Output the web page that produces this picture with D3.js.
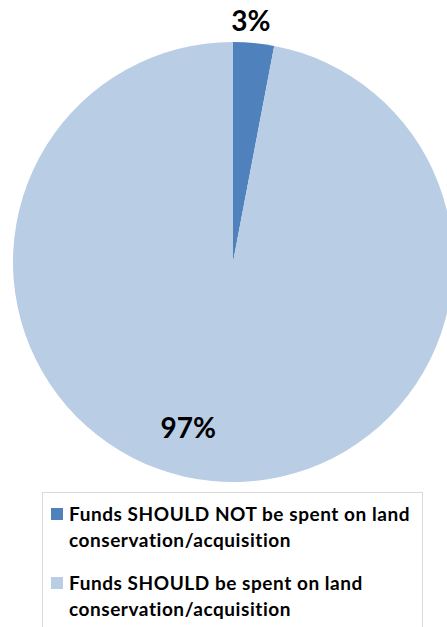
<!DOCTYPE html>
<html>
<head>
<meta charset="utf-8">
<script src="https://cdn.jsdelivr.net/npm/d3@7/dist/d3.min.js"></script>
<style>
  html, body { margin: 0; padding: 0; background: #ffffff; }
  svg { display: block; }
  text { font-family: Lato, "Open Sans", sans-serif; font-weight: bold; fill: #000; }
</style>
</head>
<body>
<svg id="chart" width="447" height="627"></svg>
<script>
// Survey responses (percent)
const categories = [
  "Funds SHOULD NOT be spent on land conservation/acquisition",
  "Funds SHOULD be spent on land conservation/acquisition"
];
const values = [3, 97];
const valueLabels = ["3%", "97%"];
const legendLines = [
  ["Funds SHOULD NOT be spent on land", "conservation/acquisition"],
  ["Funds SHOULD be spent on land", "conservation/acquisition"]
];
const colors = ["#4f81bd", "#b9cde5"];

const svg = d3.select("#chart");
const cx = 233, cy = 262, r = 220;

const color = d3.scaleOrdinal().domain(categories).range(colors);
const pie = d3.pie().sort(null).value(d => d.value);
const data = pie(categories.map((c, i) => ({ name: c, value: values[i], label: valueLabels[i] })));
const arc = d3.arc().innerRadius(0).outerRadius(r);

const g = svg.append("g").attr("transform", `translate(${cx},${cy})`);
g.selectAll("path.slice")
  .data(data)
  .join("path")
  .attr("class", "slice")
  .attr("d", arc)
  .attr("fill", d => color(d.data.name));

// Percent labels: the thin slice is labelled just outside the rim,
// the large one inside, nudged off its mid angle (best-fit placement)
const labelPos = (d, i) => {
  const mid = (d.startAngle + d.endAngle) / 2;
  return i === 0
    ? d3.pointRadial(mid - 0.02, r + 22)
    : d3.pointRadial(mid + 0.17, r * 0.78);
};
g.selectAll("text.pct")
  .data(data)
  .join("text")
  .attr("class", "pct")
  .attr("text-anchor", "middle")
  .attr("font-size", 28)
  .attr("x", (d, i) => labelPos(d, i)[0])
  .attr("y", (d, i) => labelPos(d, i)[1] + 10)
  .text(d => d.data.label);

// Legend
const legend = svg.append("g").attr("transform", "translate(42.5,492.5)");
legend.append("rect")
  .attr("width", 380).attr("height", 150)
  .attr("fill", "#fff").attr("stroke", "#d9d9d9").attr("stroke-width", 1);

const item = legend.selectAll("g.item")
  .data(categories)
  .join("g")
  .attr("class", "item")
  .attr("transform", (d, i) => `translate(0,${i * 69})`);
item.append("rect")
  .attr("x", 8.5).attr("y", 15.5)
  .attr("width", 12).attr("height", 12)
  .attr("fill", d => color(d));
item.append("text")
  .attr("x", 26.5).attr("y", 28.5)
  .attr("font-size", 19)
  .attr("letter-spacing", 0.55)
  .selectAll("tspan")
  .data((d, i) => legendLines[i])
  .join("tspan")
  .attr("x", 26.5)
  .attr("dy", (d, j) => j === 0 ? 0 : 26)
  .text(d => d);
</script>
</body>
</html>
